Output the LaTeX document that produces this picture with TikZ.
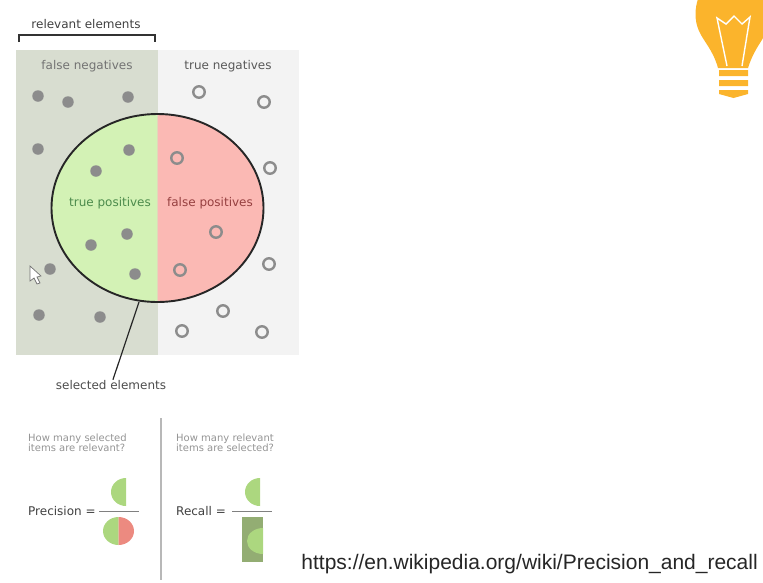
\documentclass[tikz,border=0pt]{standalone}
\usepackage{fontspec}
\setmainfont{DejaVu Sans}
\newfontfamily\urlfont{Liberation Sans}
\usetikzlibrary{shapes.geometric}
\definecolor{relgrey}{HTML}{D8DDD0}
\definecolor{irrgrey}{HTML}{F2F2F2}
\definecolor{tpfill}{HTML}{D3F2B5}
\definecolor{fpfill}{HTML}{FBB9B4}
\definecolor{dotgrey}{HTML}{8C8C8C}
\definecolor{halfgreen}{HTML}{ACD77F}
\definecolor{halfred}{HTML}{EC8A80}
\definecolor{boxgreen}{HTML}{93AD73}
\definecolor{bulb}{HTML}{FBB42C}
\tikzset{
	lab/.style={font=\fontsize{12}{13}\selectfont,inner sep=0pt},
	ask/.style={font=\fontsize{10}{10}\selectfont,text=black!42,align=left,anchor=west,inner sep=0pt},
	eqn/.style={font=\fontsize{12}{13}\selectfont,text=black!75,anchor=west,inner sep=0pt},
	fulldot/.style={circle,fill=dotgrey,minimum size=11.5pt,inner sep=0pt},
	opendot/.style={circle,draw=dotgrey,line width=2.4pt,fill=none,minimum size=11.5pt,inner sep=0pt},
}
\begin{document}
\begin{tikzpicture}[x=1pt,y=-1pt]
	\useasboundingbox (0,0) rectangle (763,582);
	% panels
	\fill[relgrey] (16,50) rectangle (157.5,355);
	\fill[irrgrey!97!white] (157.5,50) rectangle (299,355);
	\fill[tpfill] (157.5,302) arc[start angle=90,end angle=270,x radius=106,y radius=94];
	\fill[fpfill] (157.5,302) arc[start angle=90,end angle=-90,x radius=106,y radius=94];
	\node[ellipse,draw=black!85,line width=1.9pt,minimum width=212pt,minimum height=188pt,inner sep=0pt] (selarea) at (157.5,208) {};
	% points
	\foreach \x/\y [count=\i] in {38/96,68/102,128/97,38/149,129/150,96/171,127/234,91/245,135/274,50/269,39/315,100/317}
	\path (\x,\y) node[fulldot](full\i){};
	\foreach \x/\y [count=\i] in {199/92,264/102,177/158,270/168,216/232,180/270,269/264,223/311,182/331,262/332}
	\path (\x,\y) node[opendot](open\i){};
	% labels of the panels
	\foreach \x/\y/\col/\texn in {87/66/black!55/false negatives,228/66/black!65/true negatives,
		110/203/green!35!black!70!white/true positives,210/203/red!45!black!75!white/false positives}
	\path (\x,\y) node[lab,text=\col]{\texn};
	\node[lab,text=black!75] (rellabel) at (86,24) {relevant elements};
	\draw[black!80,line width=1.1pt] (19,42)--(19,35)--(155,35)--(155,42);
	\node[lab,text=black!70] (sellabel) at (111,385.5) {selected elements};
	\coordinate (selfoot) at (139,302);
	\draw[black!85,line width=1.2pt,shorten >=1pt] (selfoot)--(sellabel);
	% cursor
	\draw[black!55,fill=white,line width=.7pt] (30,266)--(30,281)--(34,278)--(37,284)--(40,283)--(37,277)--(41,276)--cycle;
	% lower part
	\draw[black!28,line width=1.4pt] (161,418)--(161,580);
	\node[ask] (askprec) at (28,442.5) {How many selected\\items are relevant?};
	\node[ask] (askrec) at (176,442.5) {How many relevant\\items are selected?};
	\node[eqn] (prec) at (28,511) {Precision =};
	\node[eqn] (rec) at (176,511) {Recall =};
	\draw[black!50,line width=1pt] (99,511)--(139,511) (232,511)--(272,511);
	\fill[halfgreen] (126,506) arc[start angle=90,end angle=270,x radius=15,y radius=14];
	\fill[halfgreen] (118.5,545) arc[start angle=90,end angle=270,x radius=15.5,y radius=14];
	\fill[halfred] (118.5,545) arc[start angle=90,end angle=-90,x radius=15.5,y radius=14];
	\fill[halfgreen] (260,506) arc[start angle=90,end angle=270,x radius=15,y radius=14];
	\fill[boxgreen] (242,517) rectangle (263,562);
	\fill[halfgreen] (263,554) arc[start angle=90,end angle=270,x radius=16,y radius=13];
	\node[anchor=east,inner sep=0pt,font=\urlfont\fontsize{21}{24}\selectfont,text=black!85] (wikiurl) at (758,564.5) {https://en.wikipedia.org/wiki/Precision\_and\_recall};
	% bulb
	\fill[bulb] (698,-1)..controls (695,8) and (694,20)..(699,31)..controls (704,42) and (713,50)..(718,68)--(748,68)..controls (753,52) and (761,42)..(763,38)--(763,-1)--cycle;
	\fill[bulb] (719,70) rectangle (748,76) (719,80) rectangle (748,86);
	\fill[bulb] (719,90)--(748,90)--(748,94)--(733.5,98)--(719,94)--cycle;
	\draw[white,line width=1.4pt,line join=miter] (727,66)--(717,18)--(726,24)--(734,16)--(742,24)--(750,17)--(742,66);
\end{tikzpicture}
\end{document}
